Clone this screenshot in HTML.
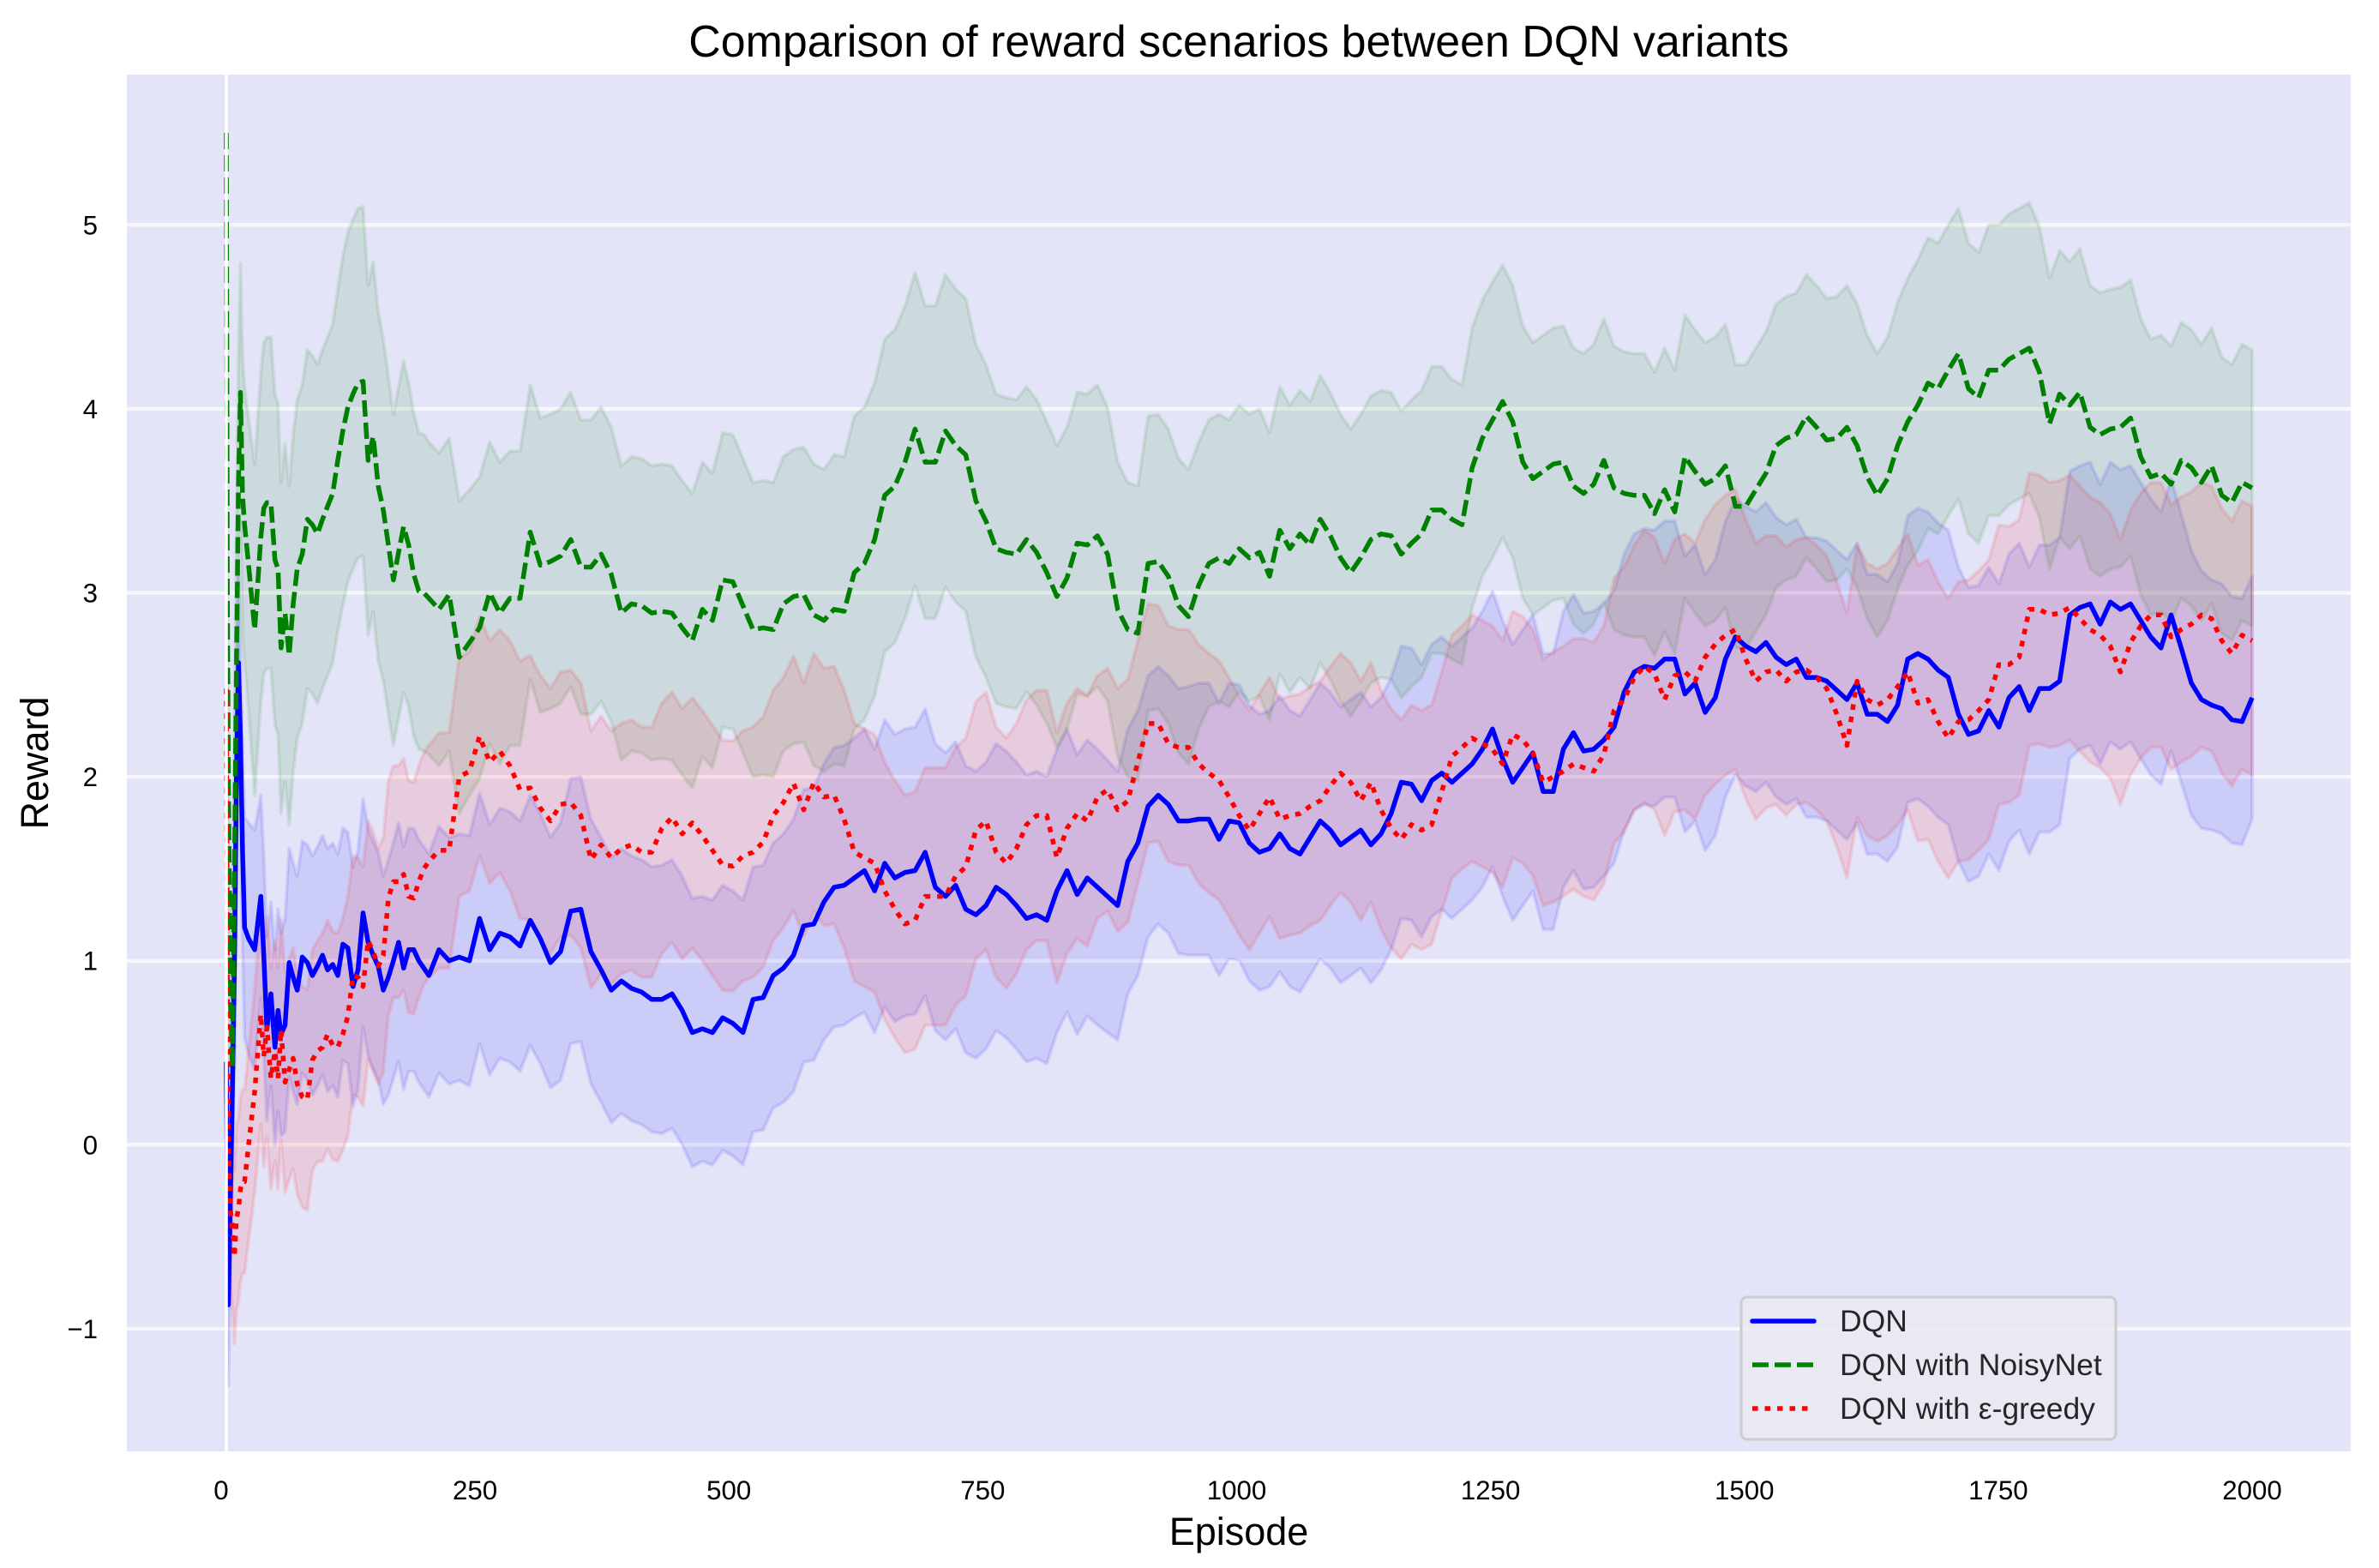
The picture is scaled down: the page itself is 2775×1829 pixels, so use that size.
<!DOCTYPE html>
<html lang="en">
<head>
<meta charset="utf-8">
<title>Comparison of reward scenarios between DQN variants</title>
<style>
html,body{margin:0;padding:0;background:#fff;width:2775px;height:1829px;overflow:hidden}
svg{display:block}
text{font-family:"Liberation Sans",Arial,sans-serif}
</style>
</head>
<body>
<svg id="chart" xmlns="http://www.w3.org/2000/svg" width="2775" height="1829" viewBox="0 0 2775 1829">
  <rect x="0" y="0" width="2775" height="1829" fill="#ffffff"/>
  <rect x="148" y="87" width="2594" height="1606" fill="#e4e4f8"/>
  <g id="grid"></g>
  <g id="bands"></g>
  <g id="lines"></g>
  <rect id="zeroLine" x="262.2" y="87" width="3.6" height="1606" fill="#ffffff"/>
  <g id="xticks"></g>
  <g id="yticks"></g>
  <text x="1445" y="66" font-size="51.9" text-anchor="middle" fill="#000">Comparison of reward scenarios between DQN variants</text>
  <text x="1445" y="1802" font-size="45" text-anchor="middle" fill="#000">Episode</text>
  <text transform="translate(56 890) rotate(-90)" font-size="45" text-anchor="middle" fill="#000">Reward</text>
  <g>
    <rect x="2031" y="1513" width="437" height="166" rx="7" ry="7" fill="#eaeaf2" fill-opacity="0.8" stroke="#cccccc" stroke-width="3"/>
    <line x1="2044" y1="1541" x2="2116" y2="1541" stroke="#0000ff" stroke-width="5.5" stroke-linecap="round"/>
    <line x1="2044" y1="1592" x2="2116" y2="1592" stroke="#008000" stroke-width="5.5" stroke-dasharray="19 7"/>
    <line x1="2044" y1="1643" x2="2116" y2="1643" stroke="#ff0000" stroke-width="5.5" stroke-dasharray="6.5 8"/>
    <text x="2146" y="1553" font-size="35.5" fill="#262626">DQN</text>
    <text x="2146" y="1604" font-size="35.5" fill="#262626">DQN with NoisyNet</text>
    <text x="2146" y="1655" font-size="35.5" fill="#262626">DQN with ε-greedy</text>
  </g>
</svg>
<script>
const xTickValues = [0,250,500,750,1000,1250,1500,1750,2000];
const yTickValues = [-1,0,1,2,3,4,5];

const episodes = [
0,1,2,4,6,8,10,12,14,16,18,22,28,34,37,40,44,48,51,54,58,62,66,70,
75,80,85,90,95,100,105,110,115,120,125,130,135,140,145,150,155,160,165,170,175,180,185,190,195,200,
210,220,230,240,250,260,270,280,290,300,
310,320,330,340,350,360,370,380,390,400,
410,420,430,440,450,460,470,480,490,500,
510,520,530,540,550,560,570,580,590,600,
610,620,630,640,650,660,670,680,690,700,
710,720,730,740,750,760,770,780,790,800,
810,820,830,840,850,860,870,880,890,900,
910,920,930,940,950,960,970,980,990,1000,
1010,1020,1030,1040,1050,1060,1070,1080,1090,1100,
1110,1120,1130,1140,1150,1160,1170,1180,1190,1200,
1210,1220,1230,1240,1250,1260,1270,1280,1290,1300,
1310,1320,1330,1340,1350,1360,1370,1380,1390,1400,
1410,1420,1430,1440,1450,1460,1470,1480,1490,1500,
1510,1520,1530,1540,1550,1560,1570,1580,1590,1600,
1610,1620,1630,1640,1650,1660,1670,1680,1690,1700,
1710,1720,1730,1740,1750,1760,1770,1780,1790,1800,
1810,1820,1830,1840,1850,1860,1870,1880,1890,1900,
1910,1920,1930,1940,1950,1960,1970,1980,1990,2000];

const dqnMean = [
.45,-.3,-.87,-.3,.3,1.0,2.0,2.62,2.2,1.6,1.18,1.12,1.06,1.35,1.03,.63,.82,.53,.73,.6,.65,.99,.91,.84,
1.02,.99,.92,.97,1.03,.95,.98,.92,1.09,1.07,.86,.95,1.26,1.10,1.03,.97,.84,.91,1.0,1.10,.96,1.06,1.06,1.0,.96,.92,
1.06,1.0,1.02,1.0,1.23,1.06,1.15,1.13,1.08,1.22,
1.12,.99,1.05,1.27,1.28,1.05,.95,.84,.89,.85,
.83,.79,.79,.82,.73,.61,.63,.61,.69,.66,
.61,.79,.80,.92,.96,1.03,1.19,1.20,1.32,1.40,
1.41,1.45,1.49,1.38,1.53,1.45,1.48,1.49,1.59,1.40,
1.35,1.41,1.28,1.25,1.30,1.40,1.36,1.30,1.23,1.25,
1.22,1.38,1.49,1.36,1.45,1.40,1.35,1.30,1.54,1.64,
1.84,1.90,1.85,1.76,1.76,1.77,1.77,1.66,1.76,1.75,
1.64,1.59,1.61,1.69,1.61,1.58,1.67,1.76,1.71,1.63,
1.67,1.71,1.63,1.69,1.80,1.97,1.96,1.87,1.98,2.02,
1.97,2.02,2.07,2.15,2.26,2.10,1.97,2.05,2.13,1.92,
1.92,2.15,2.24,2.14,2.15,2.20,2.27,2.46,2.57,2.60,
2.59,2.64,2.64,2.45,2.51,2.35,2.43,2.64,2.76,2.71,
2.68,2.73,2.65,2.61,2.64,2.54,2.54,2.52,2.47,2.42,
2.51,2.34,2.34,2.30,2.39,2.64,2.67,2.64,2.58,2.54,
2.34,2.23,2.25,2.36,2.27,2.43,2.49,2.36,2.48,2.48,
2.52,2.88,2.92,2.94,2.83,2.95,2.91,2.94,2.85,2.76,
2.70,2.88,2.70,2.51,2.42,2.39,2.37,2.31,2.30,2.43];

const noisyMean = [
5.5,3,2,.8,.42,1.5,2.6,3.6,4.09,3.53,3.37,3.15,2.8,3.3,3.46,3.49,3.49,3.18,3.13,2.7,2.89,2.66,2.94,3.13,
3.21,3.40,3.37,3.32,3.40,3.47,3.54,3.72,3.88,4.01,4.08,4.14,4.15,3.72,3.85,3.58,3.45,3.26,3.07,3.22,3.36,3.26,3.10,3.01,3.0,2.97,
2.91,2.99,2.65,2.73,2.81,3.0,2.89,2.97,2.97,3.33,
3.15,3.17,3.20,3.29,3.14,3.14,3.21,3.10,2.89,2.94,
2.93,2.89,2.90,2.89,2.81,2.74,2.91,2.85,3.07,3.06,
2.93,2.80,2.81,2.80,2.94,2.98,2.99,2.88,2.85,2.91,
2.90,3.11,3.16,3.29,3.53,3.58,3.71,3.89,3.71,3.71,
3.88,3.80,3.75,3.50,3.39,3.24,3.22,3.21,3.29,3.22,
3.11,2.98,3.08,3.27,3.26,3.31,3.21,2.91,2.80,2.78,
3.16,3.17,3.09,2.93,2.87,3.04,3.16,3.19,3.16,3.24,
3.19,3.22,3.09,3.34,3.24,3.32,3.26,3.40,3.31,3.19,
3.11,3.19,3.29,3.32,3.31,3.21,3.27,3.32,3.45,3.45,
3.40,3.37,3.68,3.84,3.94,4.04,3.93,3.71,3.62,3.66,
3.70,3.71,3.58,3.54,3.59,3.72,3.57,3.54,3.53,3.53,
3.43,3.56,3.44,3.74,3.66,3.59,3.62,3.69,3.47,3.47,
3.56,3.65,3.80,3.84,3.86,3.96,3.90,3.83,3.84,3.90,
3.80,3.63,3.53,3.62,3.80,3.93,4.02,4.14,4.11,4.21,
4.30,4.11,4.06,4.21,4.21,4.27,4.30,4.33,4.20,3.92,
4.08,4.02,4.09,3.90,3.86,3.89,3.90,3.95,3.74,3.63,
3.65,3.59,3.72,3.68,3.60,3.69,3.53,3.49,3.60,3.57];

const greedyMean = [
2.48,1.0,.01,-.35,-.45,-.61,-.4,-.35,-.24,-.2,-.2,0,.29,.71,.48,.64,.36,.51,.36,.625,.34,.41,.47,.33,
.26,.245,.46,.51,.53,.60,.54,.53,.60,.70,.92,.91,.86,1.11,1.05,.97,1.03,1.34,1.43,1.43,1.47,1.35,1.34,1.43,1.50,1.54,
1.60,1.60,2.0,2.03,2.22,2.08,2.14,2.06,1.93,1.94,
1.83,1.76,1.85,1.86,1.79,1.55,1.63,1.56,1.61,1.63,
1.59,1.59,1.72,1.78,1.69,1.75,1.68,1.60,1.52,1.515,
1.57,1.59,1.645,1.79,1.86,1.965,1.82,1.97,1.89,1.90,
1.77,1.59,1.56,1.53,1.38,1.28,1.20,1.22,1.35,1.35,
1.35,1.46,1.51,1.71,1.76,1.59,1.53,1.61,1.74,1.79,
1.79,1.56,1.72,1.80,1.76,1.89,1.93,1.82,1.87,2.08,
2.29,2.29,2.18,2.16,2.16,2.07,2.02,1.98,1.89,1.79,
1.71,1.80,1.89,1.77,1.79,1.80,1.84,1.87,1.95,2.02,
1.97,1.87,1.97,1.82,1.72,1.66,1.74,1.71,1.74,1.92,
2.11,2.16,2.21,2.18,2.15,2.07,2.23,2.20,2.13,1.97,
2.0,2.03,2.07,2.05,2.03,2.12,2.36,2.42,2.54,2.60,
2.56,2.42,2.55,2.57,2.52,2.65,2.72,2.77,2.80,2.64,
2.52,2.57,2.58,2.52,2.57,2.58,2.54,2.48,2.34,2.17,
2.52,2.42,2.39,2.42,2.49,2.57,2.40,2.42,2.30,2.21,
2.30,2.31,2.36,2.42,2.61,2.61,2.65,2.91,2.91,2.88,
2.89,2.92,2.86,2.80,2.77,2.71,2.57,2.73,2.82,2.88,
2.88,2.76,2.80,2.83,2.88,2.86,2.74,2.67,2.77,2.74];

const dqnStd = [
0,.2,.44,.5,.5,.5,.5,.5,.55,.55,.6,.63,.65,.55,.55,.5,.5,.53,.55,.55,.58,.62,.62,.62,
.63,.64,.65,.65,.65,.66,.66,.66,.63,.63,.65,.65,.62,.62,.62,.62,.62,.64,.64,.65,.66,.66,.66,.66,.66,.66,
.67,.67,.67,.68,.68,.68,.68,.68,.68,.68,
.68,.68,.70,.72,.72,.72,.72,.72,.72,.72,
.72,.72,.73,.73,.73,.73,.72,.72,.72,.72,
.72,.72,.72,.72,.73,.74,.74,.74,.75,.76,
.76,.76,.77,.77,.78,.78,.78,.78,.78,.78,
.78,.78,.78,.78,.78,.78,.78,.78,.78,.78,
.78,.77,.77,.76,.75,.75,.74,.73,.72,.72,
.71,.70,.70,.72,.73,.74,.74,.74,.75,.75,
.75,.75,.75,.75,.75,.75,.75,.75,.75,.75,
.75,.75,.75,.74,.74,.74,.74,.74,.74,.74,
.74,.74,.74,.75,.75,.75,.75,.75,.75,.75,
.75,.75,.75,.75,.75,.74,.74,.75,.75,.75,
.75,.75,.75,.75,.75,.75,.75,.75,.75,.76,
.76,.76,.76,.76,.76,.76,.76,.76,.76,.76,
.76,.76,.76,.76,.77,.78,.79,.80,.80,.80,
.80,.80,.79,.78,.78,.78,.78,.78,.78,.78,
.78,.78,.77,.77,.76,.76,.76,.75,.75,.75,
.74,.74,.73,.72,.70,.68,.68,.67,.67,.66];

const noisyStd = [
0,.1,.2,.4,.6,.7,.7,.7,.7,.75,.75,.8,.9,.9,.9,.9,.9,.9,.9,.9,.92,.92,.92,.92,
.92,.92,.92,.92,.92,.92,.92,.93,.95,.95,.95,.95,.95,.95,.95,.95,.93,.92,.9,.9,.9,.88,.88,.86,.86,.85,
.85,.85,.85,.83,.82,.82,.82,.80,.80,.80,
.80,.80,.80,.80,.80,.80,.80,.80,.80,.80,
.80,.80,.80,.80,.80,.80,.80,.80,.80,.80,
.80,.80,.80,.80,.80,.80,.80,.82,.82,.84,
.84,.85,.85,.85,.85,.85,.85,.85,.85,.85,
.85,.85,.85,.85,.85,.84,.84,.84,.83,.83,
.82,.82,.82,.82,.82,.82,.80,.80,.80,.80,
.80,.80,.80,.80,.80,.78,.78,.78,.78,.78,
.78,.78,.78,.78,.78,.78,.78,.78,.78,.78,
.78,.78,.78,.78,.78,.78,.78,.78,.78,.78,
.76,.76,.76,.75,.75,.74,.74,.74,.74,.74,
.74,.74,.75,.76,.76,.77,.77,.77,.77,.77,
.77,.77,.77,.77,.77,.77,.77,.77,.77,.77,
.77,.77,.77,.77,.77,.77,.77,.77,.77,.77,
.77,.77,.77,.77,.78,.78,.79,.79,.79,.79,
.79,.79,.79,.79,.79,.79,.79,.79,.79,.79,
.78,.78,.78,.77,.77,.76,.76,.75,.75,.75,
.75,.75,.75,.75,.75,.75,.75,.75,.75,.75];

const greedyStd = [
0,.2,.35,.42,.45,.47,.5,.5,.5,.5,.5,.52,.55,.6,.6,.6,.6,.6,.6,.6,.6,.6,.6,.6,
.6,.6,.6,.6,.62,.62,.62,.62,.63,.65,.65,.65,.65,.65,.65,.64,.64,.64,.63,.63,.63,.63,.63,.63,.63,.63,
.64,.64,.65,.65,.65,.66,.66,.68,.70,.72,
.72,.72,.72,.72,.72,.70,.70,.69,.68,.68,
.68,.68,.68,.68,.68,.68,.68,.68,.68,.68,
.68,.68,.68,.68,.68,.69,.69,.70,.70,.70,
.70,.70,.70,.70,.70,.70,.70,.70,.70,.70,
.70,.70,.70,.70,.70,.68,.68,.68,.68,.68,
.68,.68,.68,.68,.68,.66,.66,.66,.66,.66,
.65,.64,.64,.64,.64,.65,.65,.65,.65,.65,
.65,.65,.65,.65,.65,.65,.65,.65,.65,.65,
.65,.65,.65,.65,.65,.65,.65,.65,.65,.65,
.66,.66,.67,.67,.67,.67,.67,.67,.67,.67,
.68,.68,.68,.70,.70,.70,.72,.72,.72,.74,
.74,.74,.74,.75,.75,.75,.76,.76,.76,.76,
.75,.74,.73,.73,.72,.72,.72,.72,.72,.72,
.74,.74,.74,.74,.75,.75,.75,.76,.76,.76,
.76,.76,.76,.76,.76,.75,.75,.74,.73,.72,
.72,.72,.72,.72,.72,.72,.72,.72,.72,.72,
.72,.72,.72,.72,.72,.72,.72,.72,.73,.73];

const SVG_NS = 'http://www.w3.org/2000/svg';
function xScale(ep) { return 264 + ep * 1.1815; }
function xTickScale(v) { return 258 + v * 1.1845; }
function yScale(val) { return 1335.3 - val * 214.6; }
function linePath(xs, ys) {
  return xs.map(function (e, i) {
    return (i ? 'L' : 'M') + xScale(e).toFixed(1) + ' ' + yScale(ys[i]).toFixed(1);
  }).join('');
}
function bandPath(xs, mean, std) {
  const upper = xs.map(function (e, i) {
    return (i ? 'L' : 'M') + xScale(e).toFixed(1) + ' ' + yScale(mean[i] + std[i]).toFixed(1);
  }).join('');
  let lower = '';
  for (let i = xs.length - 1; i >= 0; i--) {
    lower += 'L' + xScale(xs[i]).toFixed(1) + ' ' + yScale(mean[i] - std[i]).toFixed(1);
  }
  return upper + lower + 'Z';
}

const gridGroup = document.getElementById('grid');
yTickValues.forEach(function (v) {
  const gl = document.createElementNS(SVG_NS, 'line');
  
  
  gl.setAttribute('x1', 148);
  gl.setAttribute('x2', 2742);
  gl.setAttribute('y1', yScale(v));
  gl.setAttribute('y2', yScale(v));
  gl.setAttribute('stroke', '#ffffff');
  gl.setAttribute('stroke-opacity', '0.65');
  gl.setAttribute('stroke-width', '4.5');
  gridGroup.appendChild(gl);
});

const bandsGroup = document.getElementById('bands');
function addBand(name, mean, std, color) {
  const b = document.createElementNS(SVG_NS, 'path');
  
  
  b.setAttribute('d', bandPath(episodes, mean, std));
  b.setAttribute('fill', color);
  b.setAttribute('fill-opacity', '0.1');
  b.setAttribute('stroke', color);
  b.setAttribute('stroke-opacity', '0.1');
  b.setAttribute('stroke-width', '4');
  b.setAttribute('stroke-linejoin', 'round');
  bandsGroup.appendChild(b);
}
addBand('band-dqn', dqnMean, dqnStd, '#0000ff');
addBand('band-noisynet', noisyMean, noisyStd, '#008000');
addBand('band-egreedy', greedyMean, greedyStd, '#ff0000');

const linesGroup = document.getElementById('lines');
function addLine(name, mean, color, dash) {
  const l = document.createElementNS(SVG_NS, 'path');
  
  
  l.setAttribute('d', linePath(episodes, mean));
  l.setAttribute('fill', 'none');
  l.setAttribute('stroke', color);
  l.setAttribute('stroke-width', '5.5');
  l.setAttribute('stroke-linejoin', 'round');
  if (dash) { l.setAttribute('stroke-dasharray', dash); }
  linesGroup.appendChild(l);
}
addLine('line-dqn', dqnMean, '#0000ff', '');
addLine('line-noisynet', noisyMean, '#008000', '19 7');
addLine('line-egreedy', greedyMean, '#ff0000', '6.5 8');

const xTickGroup = document.getElementById('xticks');
xTickValues.forEach(function (v) {
  const t = document.createElementNS(SVG_NS, 'text');
  
  
  t.setAttribute('x', xTickScale(v));
  t.setAttribute('y', 1749);
  t.setAttribute('font-size', '31.25');
  t.setAttribute('text-anchor', 'middle');
  t.setAttribute('fill', '#000');
  t.textContent = String(v);
  xTickGroup.appendChild(t);
});

const yTickGroup = document.getElementById('yticks');
yTickValues.forEach(function (v) {
  const t = document.createElementNS(SVG_NS, 'text');
  
  
  t.setAttribute('x', 114);
  t.setAttribute('y', yScale(v) + 11);
  t.setAttribute('font-size', '31.25');
  t.setAttribute('text-anchor', 'end');
  t.setAttribute('fill', '#000');
  t.textContent = v < 0 ? '\u2212' + Math.abs(v) : String(v);
  yTickGroup.appendChild(t);
});
</script>
</body>
</html>
